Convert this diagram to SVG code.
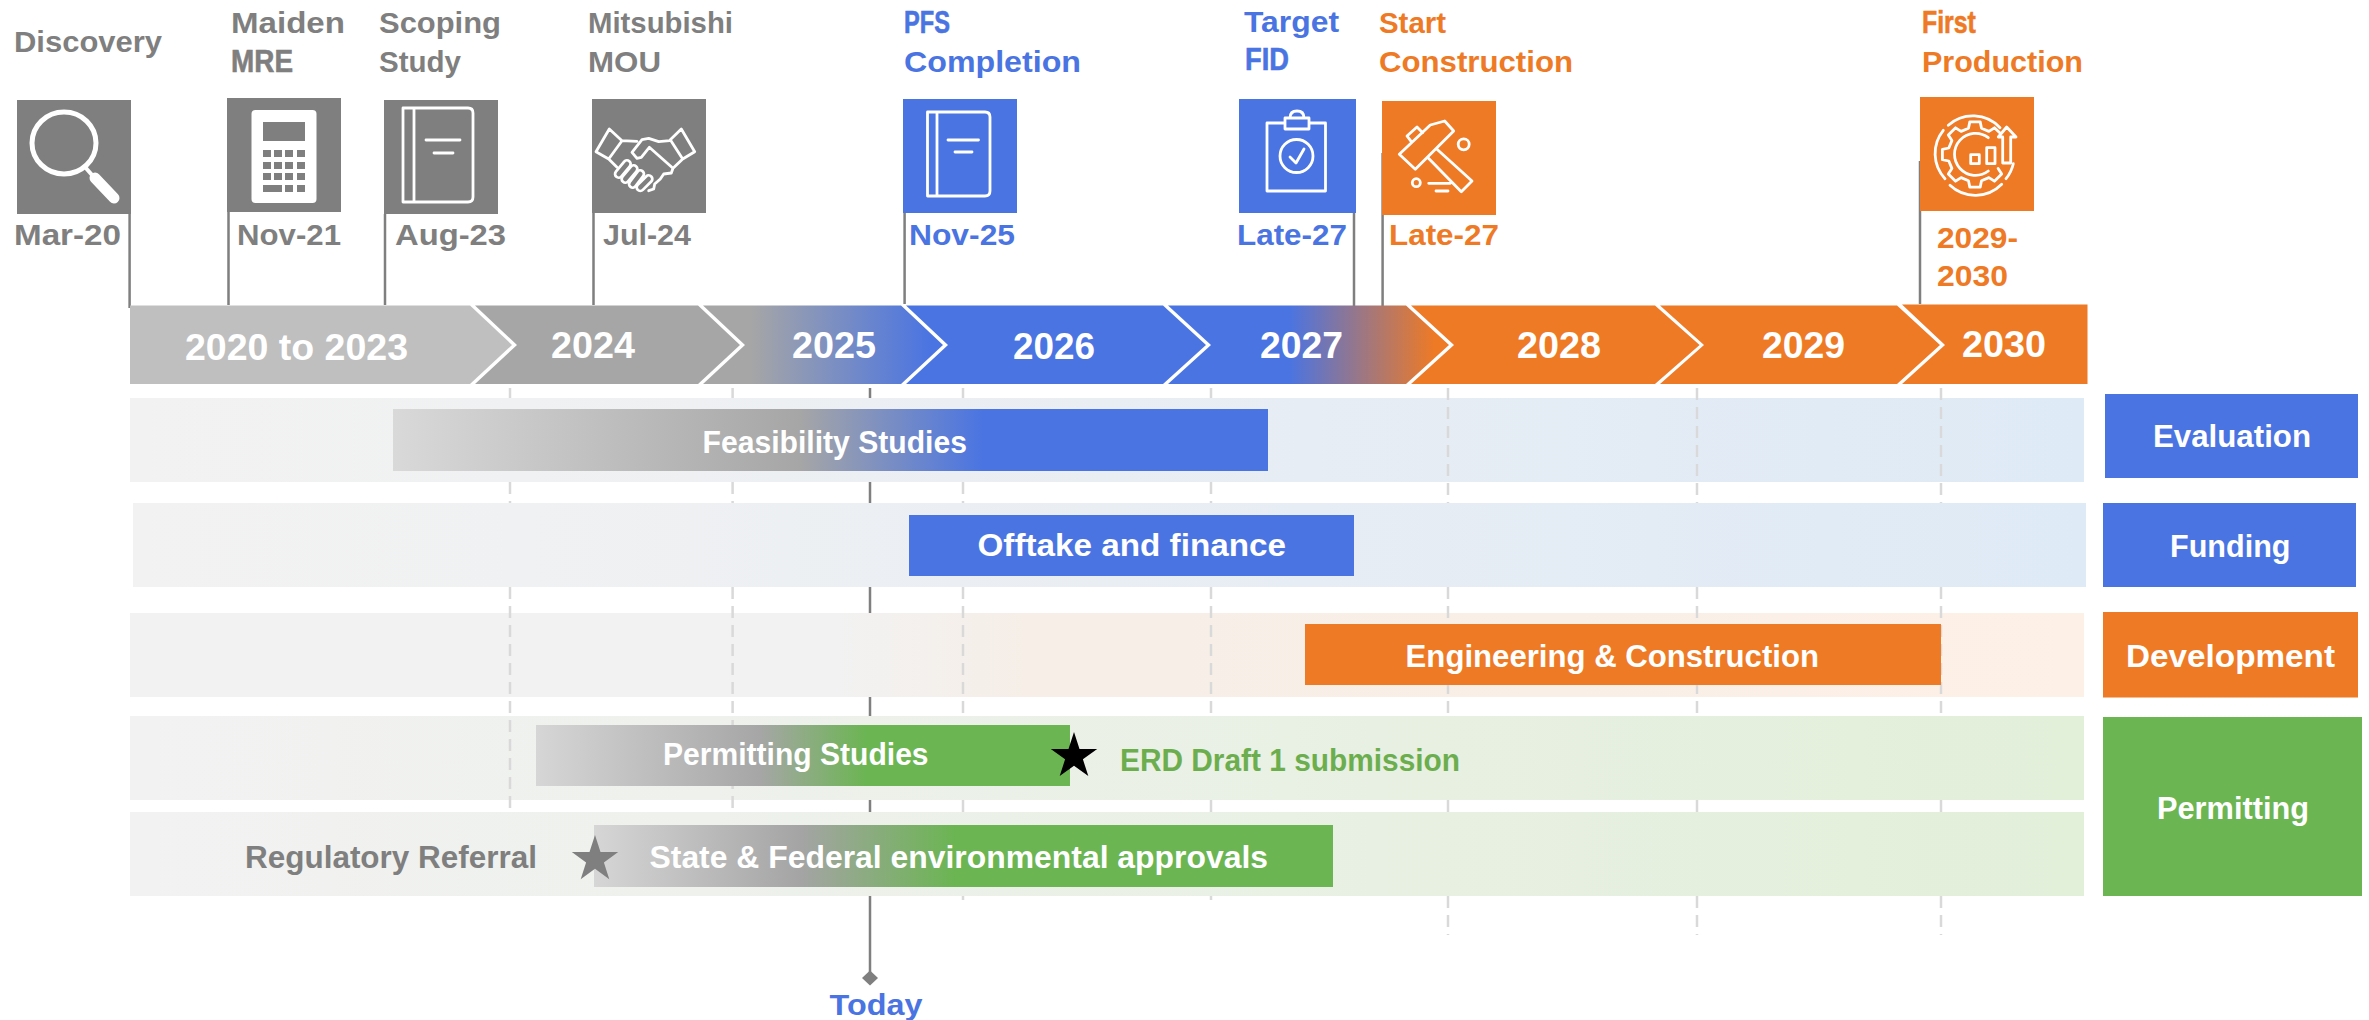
<svg xmlns="http://www.w3.org/2000/svg" width="2369" height="1020" viewBox="0 0 2369 1020">
<style>
text{font-family:"Liberation Sans",Arial,sans-serif;font-weight:700}
.l{font-size:30px}
.n{font-size:31.500px;stroke-width:.6px}
.y{font-size:37px;fill:#fff}
.b{font-size:31px;fill:#fff}
.g{fill:#7f7f7f}.bl{fill:#4a74e2}.o{fill:#ee7a25}
.n.g{stroke:#7f7f7f}.n.bl{stroke:#4a74e2}.n.o{stroke:#ee7a25}
.ic{fill:none;stroke:#fff;stroke-width:2.8;stroke-linejoin:round;stroke-linecap:round}
.dash{fill:none;stroke:#d9d9d9;stroke-width:2.5;stroke-dasharray:12 7}
.conn{fill:none;stroke:#7f7f7f;stroke-width:2.5}
</style>
<defs>
<linearGradient id="rowB"><stop offset="0" stop-color="#f2f2f2"/><stop offset=".2" stop-color="#f0f1f2"/><stop offset=".6" stop-color="#e7edf4"/><stop offset="1" stop-color="#deeaf6"/></linearGradient>
<linearGradient id="rowO"><stop offset="0" stop-color="#f2f2f2"/><stop offset=".36" stop-color="#f2f2f2"/><stop offset=".46" stop-color="#f6eee7"/><stop offset="1" stop-color="#fdf0e7"/></linearGradient>
<linearGradient id="rowG"><stop offset="0" stop-color="#f2f2f2"/><stop offset=".3" stop-color="#eef1ec"/><stop offset="1" stop-color="#e2efd9"/></linearGradient>
<linearGradient id="seg3"><stop offset="0" stop-color="#a6a6a6"/><stop offset=".2" stop-color="#a6a6a6"/><stop offset=".95" stop-color="#4a74e2"/></linearGradient>
<linearGradient id="seg5"><stop offset="0" stop-color="#4a74e2"/><stop offset=".43" stop-color="#4a74e2"/><stop offset=".95" stop-color="#ee7a25"/></linearGradient>
<linearGradient id="barF"><stop offset="0" stop-color="#d9d9d9"/><stop offset=".465" stop-color="#a6a6a6"/><stop offset=".675" stop-color="#4a74e2"/></linearGradient>
<linearGradient id="barP"><stop offset="0" stop-color="#d6d6d6"/><stop offset=".42" stop-color="#a6a6a6"/><stop offset=".62" stop-color="#6bb552"/></linearGradient>
<linearGradient id="barS"><stop offset="0" stop-color="#d6d6d6"/><stop offset=".28" stop-color="#a4a4a4"/><stop offset=".49" stop-color="#6bb552"/></linearGradient>
<polygon id="star" points="0,-24.4 5.5,-7.5 23.2,-7.5 8.9,2.9 14.3,19.7 0,9.3 -14.3,19.7 -8.9,2.9 -23.2,-7.5 -5.5,-7.5"/>
</defs>
<rect width="2369" height="1020" fill="#fff"/>

<g id="rows">
<rect x="130" y="398" width="1954" height="84" fill="url(#rowB)"/>
<rect x="133" y="503" width="1953" height="84" fill="url(#rowB)"/>
<rect x="130" y="613" width="1954" height="84" fill="url(#rowO)"/>
<rect x="130" y="716" width="1954" height="84" fill="url(#rowG)"/>
<rect x="130" y="812" width="1954" height="84" fill="url(#rowG)"/>
</g>

<g id="connectors">
<path class="dash" d="M510 388V398M510 482V503M510 587V812"/>
<path class="dash" d="M732.6 388V398M732.6 482V503M732.6 587V812"/>
<path class="dash" d="M963 388V398M963 482V503M963 587V716M963 800V812M963 896V900"/>
<path class="dash" d="M1211 388V398M1211 482V503M1211 587V716M1211 800V812M1211 896V900"/>
<path class="dash" d="M1448 388V503M1448 587V716M1448 800V812M1448 896V935"/>
<path class="dash" d="M1697 388V503M1697 587V716M1697 800V812M1697 896V935"/>
<path class="dash" d="M1941 388V503M1941 587V716M1941 800V812M1941 896V935"/>
<path class="conn" d="M870 388V398M870 482V503M870 587V613M870 697V716M870 800V812M870 896V978"/>
<path class="conn" d="M129.6 214V308M228.5 212V305M385 214V305M593.5 213V305M904.6 213V304M1354 213V306M1382.6 153V306M1920 161V304"/>
</g>

<g id="timeline">
<g id="y2020"><polygon points="130,305.5 470,305.5 512,345 470,384 130,384" fill="#bfbfbf"/><text class="y" x="185" y="360" textLength="223" lengthAdjust="spacingAndGlyphs">2020 to 2023</text></g>
<g id="y2024"><polygon points="475,305.5 698,305.5 740,345 698,384 475,384 517,345" fill="#a6a6a6"/><text class="y" x="551" y="358" textLength="84" lengthAdjust="spacingAndGlyphs">2024</text></g>
<g id="y2025"><polygon points="703,305.5 901,305.5 943,345 901,384 703,384 745,345" fill="url(#seg3)"/><text class="y" x="792" y="358" textLength="84" lengthAdjust="spacingAndGlyphs">2025</text></g>
<g id="y2026"><polygon points="906,305.5 1163,305.5 1206,345 1163,384 906,384 948,345" fill="#4a74e2"/><text class="y" x="1013" y="359" textLength="82" lengthAdjust="spacingAndGlyphs">2026</text></g>
<g id="y2027"><polygon points="1168,305.5 1406,305.5 1449,345 1406,384 1168,384 1211,345" fill="url(#seg5)"/><text class="y" x="1260" y="358" textLength="83" lengthAdjust="spacingAndGlyphs">2027</text></g>
<g id="y2028"><polygon points="1411,305.5 1655,305.5 1699.600,345 1655,384 1411,384 1454,345" fill="#ee7a25"/><text class="y" x="1517" y="358" textLength="84" lengthAdjust="spacingAndGlyphs">2028</text></g>
<g id="y2029"><polygon points="1660,305.500 1897,305.500 1940,345 1897,384 1660,384 1704,345" fill="#ee7a25"/><text class="y" x="1762" y="358" textLength="83" lengthAdjust="spacingAndGlyphs">2029</text></g>
<g id="y2030"><polygon points="1902,304.500 2087.500,304.500 2087.500,384 1902,384 1945,345" fill="#ee7a25"/><text class="y" x="1962" y="357" textLength="84" lengthAdjust="spacingAndGlyphs">2030</text></g>
</g>

<g id="m-discovery">
<rect x="17" y="100" width="114" height="114" fill="#7f7f7f"/>
<ellipse cx="64" cy="143" rx="32" ry="31" fill="none" stroke="#fff" stroke-width="5"/>
<path d="M85 167L92 175" stroke="#fff" stroke-width="4" fill="none"/>
<path d="M95 178L114 198" stroke="#fff" stroke-width="11" stroke-linecap="round" fill="none"/>
<text class="l g" x="14" y="52" textLength="148" lengthAdjust="spacingAndGlyphs">Discovery</text>
<text class="l g" x="14" y="245" textLength="107" lengthAdjust="spacingAndGlyphs">Mar-20</text>
</g>

<g id="m-mre">
<rect x="227" y="98" width="114" height="114" fill="#7f7f7f"/>
<rect x="251.500" y="110" width="65" height="93" rx="4" fill="#fff"/>
<g fill="#7f7f7f">
<rect x="263" y="122" width="42" height="19"/>
<rect x="263" y="150" width="8" height="7"/><rect x="274" y="150" width="8" height="7"/><rect x="285" y="150" width="8" height="7"/><rect x="297" y="150" width="8" height="7"/>
<rect x="263" y="162" width="8" height="7"/><rect x="274" y="162" width="8" height="7"/><rect x="285" y="162" width="8" height="7"/><rect x="297" y="162" width="8" height="7"/>
<rect x="263" y="173" width="8" height="7"/><rect x="274" y="173" width="8" height="7"/><rect x="285" y="173" width="8" height="7"/><rect x="297" y="173" width="8" height="7"/>
<rect x="263" y="185" width="19" height="7"/><rect x="285" y="185" width="8" height="7"/><rect x="297" y="185" width="8" height="7"/>
</g>
<text class="l g" x="231" y="33.300" textLength="114" lengthAdjust="spacingAndGlyphs">Maiden</text>
<text class="n g" transform="translate(231 71.700) scale(.886 1)">MRE</text>
<text class="l g" x="237" y="245" textLength="104" lengthAdjust="spacingAndGlyphs">Nov-21</text>
</g>

<g id="m-scoping">
<rect x="384" y="100" width="114" height="114" fill="#7f7f7f"/>
<path class="ic" d="M403 108H468Q473 108 473 113V197Q473 202 468 202H403ZM414 108V202M426 140H460M434 153H453"/>
<text class="l g" x="379" y="33.300" textLength="122" lengthAdjust="spacingAndGlyphs">Scoping</text>
<text class="l g" x="379" y="71.700" textLength="82" lengthAdjust="spacingAndGlyphs">Study</text>
<text class="l g" x="395" y="245" textLength="111" lengthAdjust="spacingAndGlyphs">Aug-23</text>
</g>

<g id="m-mou">
<rect x="592" y="99" width="114" height="114" fill="#7f7f7f"/>
<path class="ic" d="M609.300 129L622 140.700L608.700 159L596 151.700ZM681.300 129L694.700 151.700L682.700 159L670.300 139.700ZM622 140.700L637 141.300M669.700 140.700L658.700 141.700L648.700 138.300L642 139.700L632 152.300L637 158.300L641.300 157.300L649.300 147.300L673 168.300L671.300 173L663.700 174L660.300 179L654.700 184L653.700 189L648.700 190.700M608.700 159L617 167.300M682.700 159L673 168.300"/>
<g fill="none" stroke-linecap="round">
<g stroke="#fff" stroke-width="10"><path d="M618.700 174L627 164"/><path d="M625.300 179L633.700 169"/><path d="M632.700 184L640.300 174"/><path d="M640.300 187.300L648.700 179"/></g>
<g stroke="#7f7f7f" stroke-width="4.500"><path d="M618.700 174L627 164"/><path d="M625.300 179L633.700 169"/><path d="M632.700 184L640.300 174"/><path d="M640.300 187.300L648.700 179"/></g>
</g>
<text class="l g" x="588" y="33.300" textLength="145" lengthAdjust="spacingAndGlyphs">Mitsubishi</text>
<text class="l g" x="588" y="71.700" textLength="73" lengthAdjust="spacingAndGlyphs">MOU</text>
<text class="l g" x="603" y="245" textLength="88" lengthAdjust="spacingAndGlyphs">Jul-24</text>
</g>

<g id="m-pfs">
<rect x="903" y="99" width="114" height="114" fill="#4a74e2"/>
<path class="ic" d="M927.500 112H985Q990 112 990 117V191Q990 196 985 196H927.500ZM937 112V196M948 140H978.500M955 152H972"/>
<text class="n bl" transform="translate(904 33.300) scale(.75 1)">PFS</text>
<text class="l bl" x="904" y="71.700" textLength="177" lengthAdjust="spacingAndGlyphs">Completion</text>
<text class="l bl" x="909" y="245" textLength="106" lengthAdjust="spacingAndGlyphs">Nov-25</text>
</g>

<g id="m-fid">
<rect x="1239" y="99" width="117" height="114" fill="#4a74e2"/>
<path class="ic" d="M1285 123H1267V191H1325.500V123H1309M1285 118H1309V129H1285ZM1290 118Q1290 111 1297 111Q1304 111 1304 118"/>
<path class="ic" d="M1290 157L1296 163L1304 149"/>
<circle class="ic" cx="1296.500" cy="156" r="16.500"/>
<text class="l bl" x="1244" y="31.700" textLength="95" lengthAdjust="spacingAndGlyphs">Target</text>
<text class="n bl" transform="translate(1245 69.500) scale(.866 1)">FID</text>
<text class="l bl" x="1237" y="245" textLength="110" lengthAdjust="spacingAndGlyphs">Late-27</text>
</g>

<g id="m-start">
<rect x="1382" y="101" width="114" height="114" fill="#ee7a25"/>
<path class="ic" d="M1430.300 125L1444.700 121L1453.700 131L1415.300 169.300L1399.300 154.300ZM1411.300 141.700L1407 136L1417 127L1422.700 132.700M1437 149.300L1472 181L1461.300 191.700L1428 157.700M1428.700 183.300H1450.300M1436 191H1448"/>
<circle class="ic" cx="1463.700" cy="144.300" r="5.500"/>
<circle class="ic" cx="1416.300" cy="182.700" r="4"/>
<text class="l o" x="1379" y="33.300" textLength="67" lengthAdjust="spacingAndGlyphs">Start</text>
<text class="l o" x="1379" y="71.700" textLength="194" lengthAdjust="spacingAndGlyphs">Construction</text>
<text class="l o" x="1389" y="245" textLength="110" lengthAdjust="spacingAndGlyphs">Late-27</text>
</g>

<g id="m-production">
<rect x="1920" y="97" width="114" height="114" fill="#ee7a25"/>
<path class="ic" d="M1948.300 125.300A37 37 0 0 1 2000 127.700M1943.300 130.300A37 37 0 0 0 1945 178.700M1950 185.300A37 37 0 0 0 2001.700 184.300M2006 178.700A37 37 0 0 0 2013.300 163.700"/>
<path class="ic" d="M1998.100 168.400L2001.700 173.900L1994.400 181.200L1988.900 177.600L1981.500 180.700L1980.200 187.100H1969.800L1968.500 180.700L1961.100 177.600L1955.600 181.200L1948.300 173.900L1951.900 168.400L1948.800 161L1942.400 159.700V149.300L1948.800 148L1951.900 140.600L1948.300 135.100L1955.600 127.800L1961.100 131.400L1968.500 128.300L1969.800 121.900H1980.200L1981.500 128.300L1988.900 131.400L1994.400 127.800L2000 133"/>
<path class="ic" d="M1988.300 137.700A21 21 0 1 0 1988.300 171"/>
<path class="ic" d="M1970.700 154.700H1979.300V163.700H1970.700ZM1986.700 147.700H1995V163.700H1986.700ZM2002.700 163V137H1998.300L2006.700 127L2016 137H2010.700V163Z"/>
<text class="n o" transform="translate(1922 33.300) scale(.79 1)">First</text>
<text class="l o" x="1922" y="71.700" textLength="161" lengthAdjust="spacingAndGlyphs">Production</text>
<text class="l o" x="1937" y="248" textLength="81" lengthAdjust="spacingAndGlyphs">2029-</text>
<text class="l o" x="1937" y="286" textLength="71" lengthAdjust="spacingAndGlyphs">2030</text>
</g>

<g id="bar-feasibility"><rect x="393" y="409" width="875" height="62" fill="url(#barF)"/><text class="b" x="702.500" y="452.600" textLength="264.500" lengthAdjust="spacingAndGlyphs">Feasibility Studies</text></g>
<g id="bar-offtake"><rect x="909" y="515" width="445" height="61" fill="#4a74e2"/><text class="b" x="977.500" y="556" textLength="308.500" lengthAdjust="spacingAndGlyphs">Offtake and finance</text></g>
<g id="bar-engineering"><rect x="1305" y="624" width="636" height="61" fill="#ee7a25"/><text class="b" x="1405.600" y="667" textLength="413.400" lengthAdjust="spacingAndGlyphs">Engineering &amp; Construction</text></g>
<g id="bar-permitting"><rect x="536" y="725" width="534" height="61" fill="url(#barP)"/><text class="b" x="663" y="765" textLength="265.600" lengthAdjust="spacingAndGlyphs">Permitting Studies</text></g>
<g id="erd-milestone"><use href="#star" x="1074" y="756.400" fill="#000"/><text class="b" style="fill:#6cae4e" x="1120" y="771" textLength="340" lengthAdjust="spacingAndGlyphs">ERD Draft 1 submission</text></g>
<g id="bar-state"><rect x="594" y="825" width="739" height="62" fill="url(#barS)"/><text class="b" x="649.500" y="868" textLength="618.500" lengthAdjust="spacingAndGlyphs">State &amp; Federal environmental approvals</text></g>
<g id="regulatory-milestone"><use href="#star" x="595" y="859.500" fill="#7f7f7f"/><text class="b" style="fill:#7f7f7f" x="245" y="868" textLength="292" lengthAdjust="spacingAndGlyphs">Regulatory Referral</text></g>

<g id="side-evaluation"><rect x="2105" y="394" width="253" height="84" fill="#4a74e2"/><text class="b" x="2153" y="447" textLength="158" lengthAdjust="spacingAndGlyphs">Evaluation</text></g>
<g id="side-funding"><rect x="2103" y="503" width="253" height="84" fill="#4a74e2"/><text class="b" x="2170" y="557" textLength="120.500" lengthAdjust="spacingAndGlyphs">Funding</text></g>
<g id="side-development"><rect x="2103" y="612" width="255" height="85.500" fill="#ee7a25"/><text class="b" x="2126" y="667" textLength="209" lengthAdjust="spacingAndGlyphs">Development</text></g>
<g id="side-permitting"><rect x="2103" y="717" width="259" height="179" fill="#6bb552"/><text class="b" x="2157" y="819" textLength="152" lengthAdjust="spacingAndGlyphs">Permitting</text></g>

<g id="today">
<polygon points="870,970.500 878,978 870,985.500 862,978" fill="#7f7f7f"/>
<text class="l bl" x="829.600" y="1015" textLength="92.800" lengthAdjust="spacingAndGlyphs">Today</text>
</g>
</svg>
